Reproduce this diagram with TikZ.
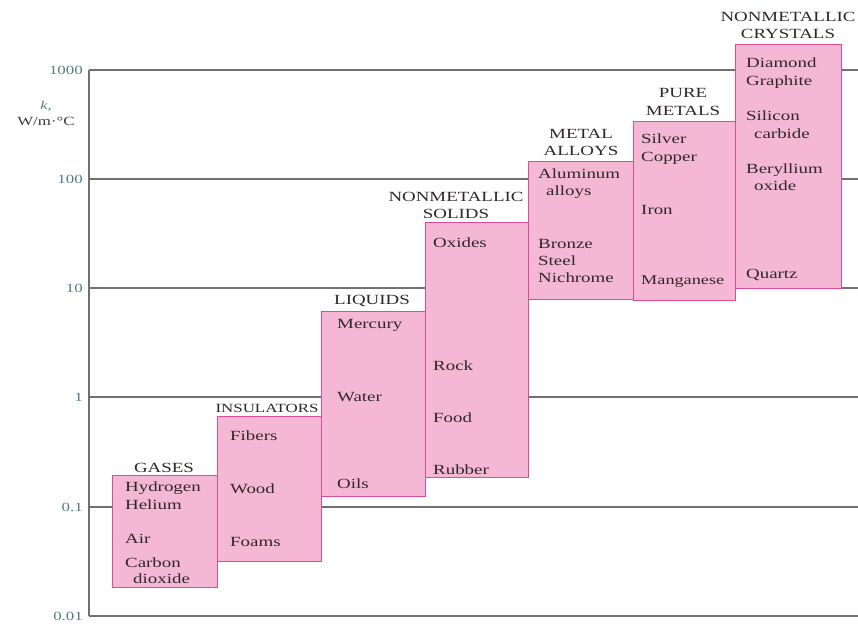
\documentclass[tikz,border=0pt]{standalone}
\usepackage{fontspec}
\setmainfont{Liberation Serif}[FakeStretch=1.35]
\definecolor{boxfill}{HTML}{F4B8D4}
\definecolor{boxline}{HTML}{DE4C98}
\definecolor{gridc}{HTML}{707070}
\definecolor{tickc}{HTML}{4F7F86}
\definecolor{txtc}{HTML}{302828}
\tikzset{
  px/.style={x=1pt,y=-1pt},
  gridline/.style={draw=gridc,line width=1.4pt},
  matbox/.style={draw=boxline,fill=boxfill,line width=1.4pt,inner sep=0pt,anchor=north west},
  item/.style={anchor=base west,inner sep=0pt,text=txtc,font=\fontsize{14}{16}\selectfont},
  ttl/.style={anchor=base,inner sep=0pt,text=txtc,font=\fontsize{14}{16}\selectfont},
  tick/.style={anchor=east,inner sep=0pt,text=tickc,font=\fontsize{12.5}{15}\selectfont},
}
\newcommand{\matbox}[5]{\node[matbox,minimum width=#4-#2,minimum height=#5-#3] (#1) at (#2,#3) {};}
\begin{document}
\begin{tikzpicture}[px]
\useasboundingbox (0,0) rectangle (858,623);
% axis and grid
\draw[gridline] (89,70) -- (89,616);
\foreach \y in {70,179,288,397,507,616} \draw[gridline] (89,\y) -- (858,\y);
\node[tick] (t1000) at (83,70) {1000};
\node[tick] (t100) at (83,179) {100};
\node[tick] (t10) at (83,288) {10};
\node[tick] (t1) at (83,397) {1};
\node[tick] (t01) at (83,507) {0.1};
\node[tick] (t001) at (83,616) {0.01};
\node[inner sep=0pt,text=tickc,font=\fontsize{12}{14}\selectfont\itshape] (kk) at (46,106) {k,};
\node[inner sep=0pt,text=txtc!80!tickc,font=\fontsize{12.5}{15}\selectfont] (unit) at (46,121) {W/m·°C};
% boxes
\matbox{gases}{112}{475}{217}{587}
\matbox{insul}{217}{416}{321}{561}
\matbox{liq}{321}{311}{425}{496}
\matbox{nms}{425}{222}{528}{477}
\matbox{alloy}{528}{161}{633}{299}
\matbox{pure}{633}{121}{735}{300}
\matbox{cryst}{735}{44}{841}{288}
% gases
\node[ttl] (tg) at (164,472) {GASES};
\node[item] (g1) at (125,491) {Hydrogen};
\node[item] (g2) at (125,509) {Helium};
\node[item] (g3) at (125,543) {Air};
\node[item] (g4) at (125,567) {Carbon};
\node[item] (g5) at (133,583) {dioxide};
% insulators
\node[ttl,font=\fontsize{12.5}{15}\selectfont] (ti) at (267,412) {INSULATORS};
\node[item] (i1) at (230,440) {Fibers};
\node[item] (i2) at (230,493) {Wood};
\node[item] (i3) at (230,546) {Foams};
% liquids
\node[ttl] (tl) at (372,304) {LIQUIDS};
\node[item] (l1) at (337,328) {Mercury};
\node[item] (l2) at (337,401) {Water};
\node[item] (l3) at (337,488) {Oils};
% nonmetallic solids
\node[ttl] (ts1) at (456,201) {NONMETALLIC};
\node[ttl] (ts2) at (456,218) {SOLIDS};
\node[item] (s1) at (433,247) {Oxides};
\node[item] (s2) at (433,370) {Rock};
\node[item] (s3) at (433,422) {Food};
\node[item] (s4) at (433,474) {Rubber};
% metal alloys
\node[ttl] (ta1) at (581,138) {METAL};
\node[ttl] (ta2) at (581,155) {ALLOYS};
\node[item] (a1) at (538,178) {Aluminum};
\node[item] (a2) at (546,195) {alloys};
\node[item] (a3) at (538,248) {Bronze};
\node[item] (a4) at (538,265) {Steel};
\node[item] (a5) at (538,282) {Nichrome};
% pure metals
\node[ttl] (tp1) at (683,98) {PURE};
\node[ttl] (tp2) at (683,115) {METALS};
\node[item] (p1) at (641,143) {Silver};
\node[item] (p2) at (641,161) {Copper};
\node[item] (p3) at (641,214) {Iron};
\node[item,font=\fontsize{13.5}{16}\selectfont] (p4) at (641,284) {Manganese};
% nonmetallic crystals
\node[ttl] (tc1) at (788,22) {NONMETALLIC};
\node[ttl] (tc2) at (788,39) {CRYSTALS};
\node[item] (c1) at (746,68) {Diamond};
\node[item] (c2) at (746,85) {Graphite};
\node[item] (c3) at (746,121) {Silicon};
\node[item] (c4) at (754,138) {carbide};
\node[item] (c5) at (746,173) {Beryllium};
\node[item] (c6) at (754,190) {oxide};
\node[item] (c7) at (746,278) {Quartz};
\end{tikzpicture}
\end{document}
